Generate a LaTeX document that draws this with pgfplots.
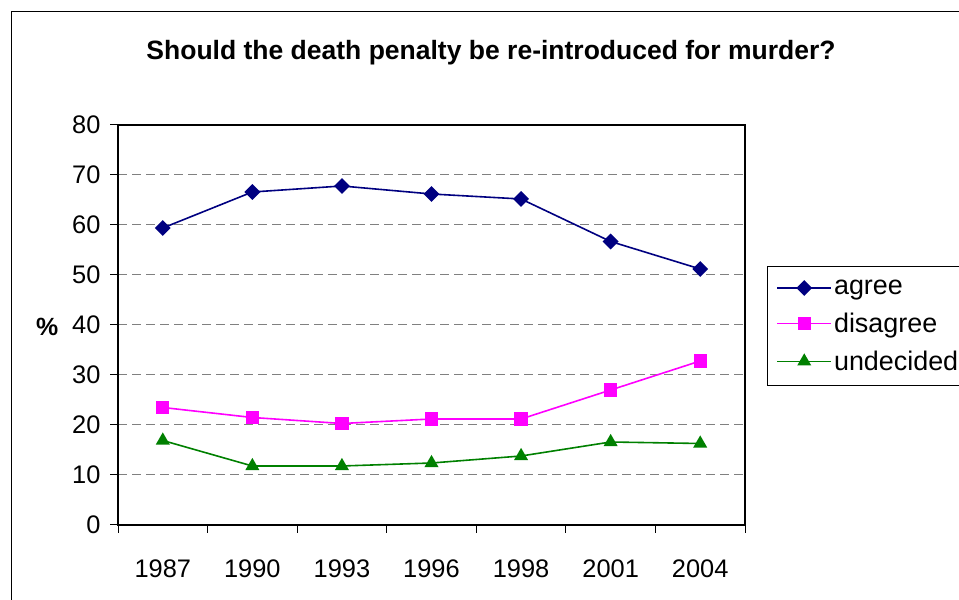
\documentclass[border=0pt]{standalone}
\usepackage{pgfplots}
\pgfplotsset{compat=1.18}
\usepackage{fontspec}
\setmainfont{Liberation Sans}

\definecolor{agreec}{RGB}{0,0,128}
\definecolor{disagreec}{RGB}{255,0,255}
\definecolor{undecidedc}{RGB}{0,128,0}
\definecolor{gridc}{RGB}{128,128,128}

\begin{document}
\begin{tikzpicture}[x=1bp,y=1bp]
\path[use as bounding box] (0,0) rectangle (959,600);
% chart frame (right and bottom edges fall outside the page)
\draw[black, line width=1bp] (11,-20) rectangle (990,588);
\node[font=\bfseries\fontsize{26.6}{30}\selectfont] at (491,547)
  {Should the death penalty be re-introduced for murder?};

\begin{axis}[
    at={(118bp,75bp)}, anchor=south west,
    scale only axis,
    width=627bp, height=400bp,
    xmin=-0.5, xmax=6.5,
    ymin=0, ymax=80,
    ytick={0,10,...,80},
    xtick={0,...,6},
    xticklabels={1987,1990,1993,1996,1998,2001,2004},
    minor xtick={-0.5,0.5,...,6.5},
    major x tick style={draw=none},
    tick align=outside,
    tick pos=left,
    major tick length=8bp,
    minor tick length=8bp,
    every tick/.style={black, line width=1bp},
    axis line style={black, line width=1.3bp},
    ymajorgrids,
    major y grid style={gridc, line width=1bp, dash pattern=on 9bp off 5bp},
    tick label style={font=\fontsize{25.5}{30}\selectfont},
    /pgf/number format/assume math mode=true,
    xticklabel style={yshift=-23bp},
    yticklabel style={xshift=-6bp},
    ylabel={\textbf{\%}},
    ylabel style={at={(axis description cs:-0.113,0.495)}, rotate=-90, anchor=center, font=\fontsize{25}{30}\selectfont},
    legend style={at={(axis description cs:1.035,0.6475)}, anchor=north west,
        draw=black, line width=1bp, font=\fontsize{27}{30}\selectfont,
        inner xsep=9bp, inner ysep=11.5bp, row sep=13bp, cells={anchor=west}},
    legend image code/.code={
        \draw[mark repeat=2, mark phase=2, line width=1.6bp, #1]
            plot coordinates {(0bp,0bp) (27bp,0bp) (54bp,0bp)};},
    every axis plot/.append style={line width=1.6bp},
]
\addplot[agreec, mark=square*, mark size=4.8bp, mark options={rotate=45, solid, fill=agreec}]
  coordinates {(0,59.4) (1,66.6) (2,67.8) (3,66.2) (4,65.2) (5,56.7) (6,51.2)};
\addlegendentry{agree}
\addplot[disagreec, mark=square*, mark size=5.8bp, mark options={solid, fill=disagreec}]
  coordinates {(0,23.5) (1,21.5) (2,20.3) (3,21.2) (4,21.2) (5,27.0) (6,32.8)};
\addlegendentry{disagree}
\addplot[undecidedc, mark=triangle*, mark size=6.5bp, mark options={solid, fill=undecidedc}]
  coordinates {(0,16.9) (1,11.8) (2,11.8) (3,12.4) (4,13.8) (5,16.6) (6,16.3)};
\addlegendentry{undecided}
\end{axis}
\end{tikzpicture}
\end{document}
